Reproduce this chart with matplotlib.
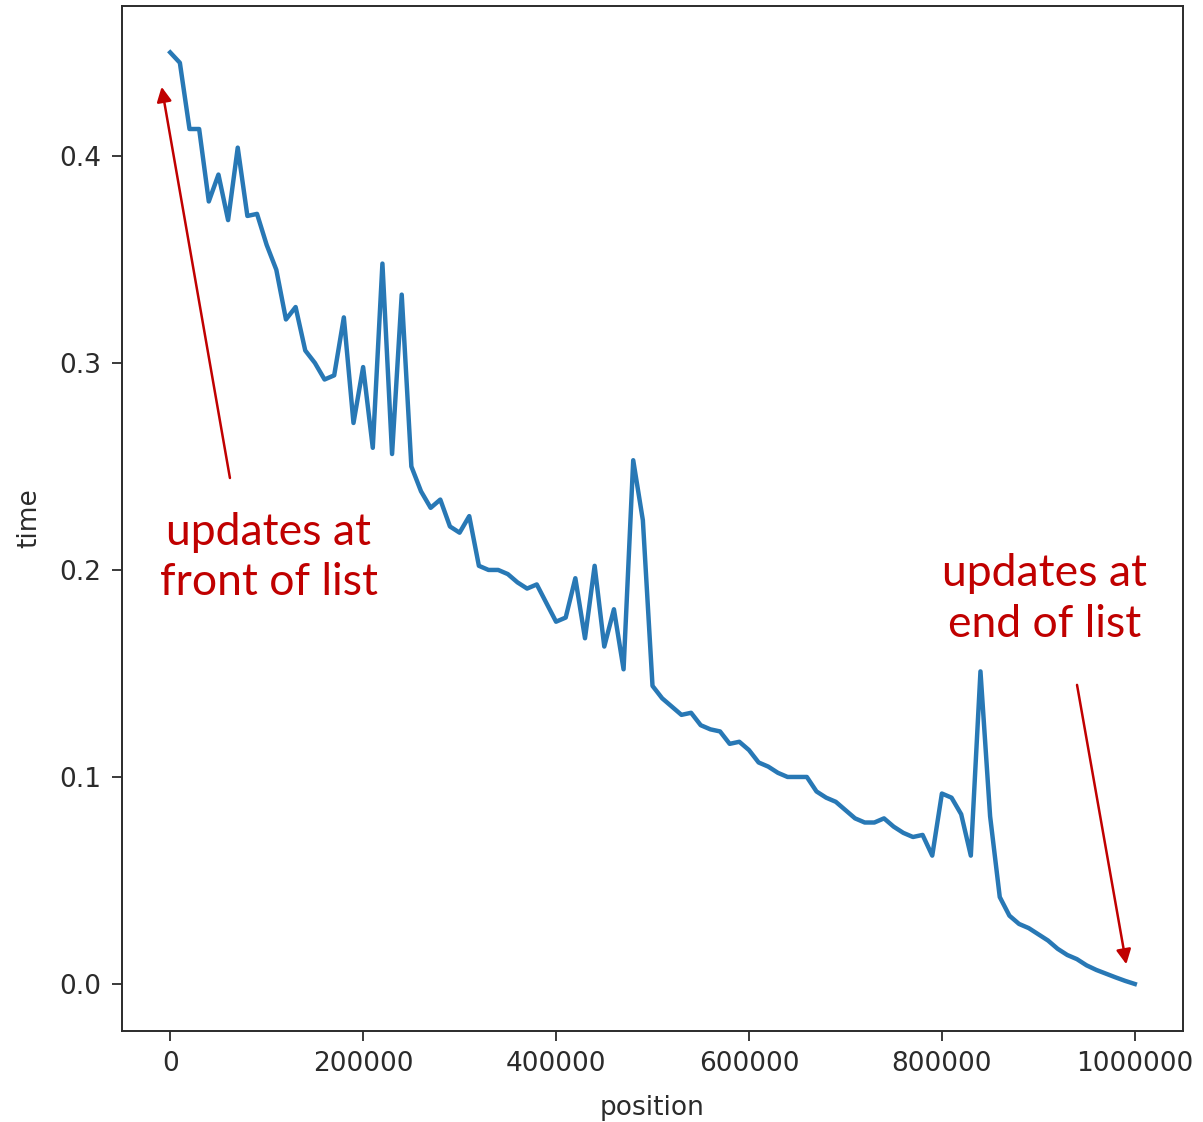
import matplotlib
matplotlib.use("Agg")
import matplotlib.pyplot as plt

# позиції оновлення (крок 10000) і виміряний час
position = [i * 10000 for i in range(101)]
time = [0.450, 0.445, 0.413, 0.413, 0.378, 0.391, 0.369, 0.404, 0.371, 0.372,
        0.357, 0.345, 0.321, 0.327, 0.306, 0.300, 0.292, 0.294, 0.322, 0.271,
        0.298, 0.259, 0.348, 0.256, 0.333, 0.250, 0.238, 0.230, 0.234, 0.221,
        0.218, 0.226, 0.202, 0.200, 0.200, 0.198, 0.194, 0.191, 0.193, 0.184,
        0.175, 0.177, 0.196, 0.167, 0.202, 0.163, 0.181, 0.152, 0.253, 0.224,
        0.144, 0.138, 0.134, 0.130, 0.131, 0.125, 0.123, 0.122, 0.116, 0.117,
        0.113, 0.107, 0.105, 0.102, 0.100, 0.100, 0.100, 0.093, 0.090, 0.088,
        0.084, 0.080, 0.078, 0.078, 0.080, 0.076, 0.073, 0.071, 0.072, 0.062,
        0.092, 0.090, 0.082, 0.062, 0.151, 0.081, 0.042, 0.033, 0.029, 0.027,
        0.024, 0.021, 0.017, 0.014, 0.012, 0.009, 0.0068, 0.005, 0.0032, 0.0015,
        0.0]

notes = ["updates at\nfront of list", "updates at\nend of list"]
red = "#C00000"
grey = "#2b2b2b"

plt.rcParams['font.family'] = ['DejaVu Sans']

fig = plt.figure(figsize=(12.03, 11.22), dpi=100)
ax = fig.add_axes([0.1014, 0.0815, 0.882, 0.9133])
ax.plot(position, time, color="#2878b5", lw=3.2)
ax.ticklabel_format(style="plain", axis="x")
ax.tick_params(labelsize=19, length=7, width=1.3, pad=8, colors=grey, labelcolor=grey)
for s in ax.spines.values():
    s.set_linewidth(1.4)
    s.set_color(grey)
ax.set_xlabel("position", fontsize=19, color=grey, labelpad=13)
ax.set_ylabel("time", fontsize=19, color=grey, labelpad=12)

# стрілки і підписи
ax.annotate("", xy=(-9400, 0.4347), xytext=(62400, 0.2431),
            arrowprops=dict(arrowstyle="-|>", color=red, lw=1.8, mutation_scale=22))
ax.annotate("", xy=(991700, 0.0082), xytext=(939600, 0.1458),
            arrowprops=dict(arrowstyle="-|>", color=red, lw=1.8, mutation_scale=22))
ax.text(102000, 0.206, notes[0], color=red, fontsize=32, family="Lato",
        ha="center", va="center", linespacing=1.3)
ax.text(906300, 0.186, notes[1], color=red, fontsize=32, family="Lato",
        ha="center", va="center", linespacing=1.3)

fig.savefig("out.png", dpi=100)
